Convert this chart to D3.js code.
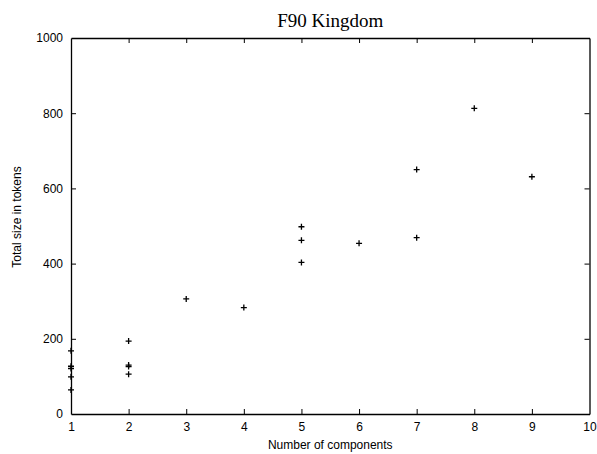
<!DOCTYPE html>
<html>
<head>
<meta charset="utf-8">
<script src="https://cdn.jsdelivr.net/npm/d3@7"></script>
<style>
  body { margin: 0; background: #fff; }
  svg { display: block; }
</style>
</head>
<body>
<div id="chart"></div>
<script>
// data
let components = [1, 1, 1, 1, 1, 2, 2, 2, 2, 3, 4, 5, 5, 5, 6, 7, 7, 8, 9];
let sizes      = [168, 127, 121, 99, 64, 194, 130, 126, 106, 306, 283, 498, 462, 403, 454, 650, 469, 813, 631];
let xTicks = [1, 2, 3, 4, 5, 6, 7, 8, 9, 10];
let yTicks = [0, 200, 400, 600, 800, 1000];

let width = 597, height = 454;
let plotLeft = 71, plotRight = 589.5, plotTop = 38, plotBottom = 414;

let svg = d3.select("#chart").append("svg")
    .attr("width", width)
    .attr("height", height);

let x = d3.scaleLinear().domain([1, 10]).range([plotLeft, plotRight]);
let y = d3.scaleLinear().domain([0, 1000]).range([plotBottom, plotTop]);

let font = "'Liberation Sans', Arial, Helvetica, sans-serif";

// four sides, ticks pointing inside
let xb = svg.append("g").attr("transform", `translate(0,${plotBottom})`)
    .call(d3.axisBottom(x).tickValues(xTicks).tickSizeInner(-5).tickSizeOuter(0).tickPadding(8).tickFormat(d3.format("d")));
let xt = svg.append("g").attr("transform", `translate(0,${plotTop})`)
    .call(d3.axisTop(x).tickValues(xTicks).tickSizeInner(-5).tickSizeOuter(0).tickFormat(""));
let yl = svg.append("g").attr("transform", `translate(${plotLeft},0)`)
    .call(d3.axisLeft(y).tickValues(yTicks).tickSizeInner(-5).tickSizeOuter(0).tickPadding(8).tickFormat(d3.format("d")));
let yr = svg.append("g").attr("transform", `translate(${plotRight},0)`)
    .call(d3.axisRight(y).tickValues(yTicks).tickSizeInner(-5).tickSizeOuter(0).tickFormat(""));

[xb, xt, yl, yr].forEach(function(g){
    g.select(".domain").attr("stroke", "#000").attr("stroke-width", 1.3);
    g.selectAll(".tick line").attr("stroke", "#000").attr("stroke-width", 1);
    g.selectAll(".tick text")
        .style("font-family", font)
        .style("font-size", "12px")
        .attr("fill", "#000");
});
// no tick marks where they would sit on the frame corners
xb.selectAll(".tick line").filter(d => d === 1 || d === 10).remove();
xt.selectAll(".tick line").filter(d => d === 1 || d === 10).remove();
yl.selectAll(".tick line").filter(d => d === 0 || d === 1000).remove();
yr.selectAll(".tick line").filter(d => d === 0 || d === 1000).remove();

// points as plus markers
let pts = svg.append("g");
let arm = 3;
components.forEach(function(c, i){
    let px = x(c), py = y(sizes[i]);
    pts.append("path")
        .attr("d", `M${px - arm},${py}H${px + arm}M${px},${py - arm}V${py + arm}`)
        .attr("stroke", "#000")
        .attr("stroke-width", 1.3)
        .attr("fill", "none");
});

// title and axis labels
svg.append("text")
    .attr("x", (plotLeft + plotRight) / 2)
    .attr("y", 27)
    .attr("text-anchor", "middle")
    .style("font-family", "'Liberation Serif', 'Times New Roman', serif")
    .style("font-size", "19px")
    .text("F90 Kingdom");

svg.append("text")
    .attr("x", (plotLeft + plotRight) / 2)
    .attr("y", 449)
    .attr("text-anchor", "middle")
    .style("font-family", font)
    .style("font-size", "12px")
    .text("Number of components");

svg.append("text")
    .attr("transform", "translate(21,217) rotate(-90)")
    .attr("text-anchor", "middle")
    .style("font-family", font)
    .style("font-size", "12px")
    .text("Total size in tokens");
</script>
</body>
</html>
